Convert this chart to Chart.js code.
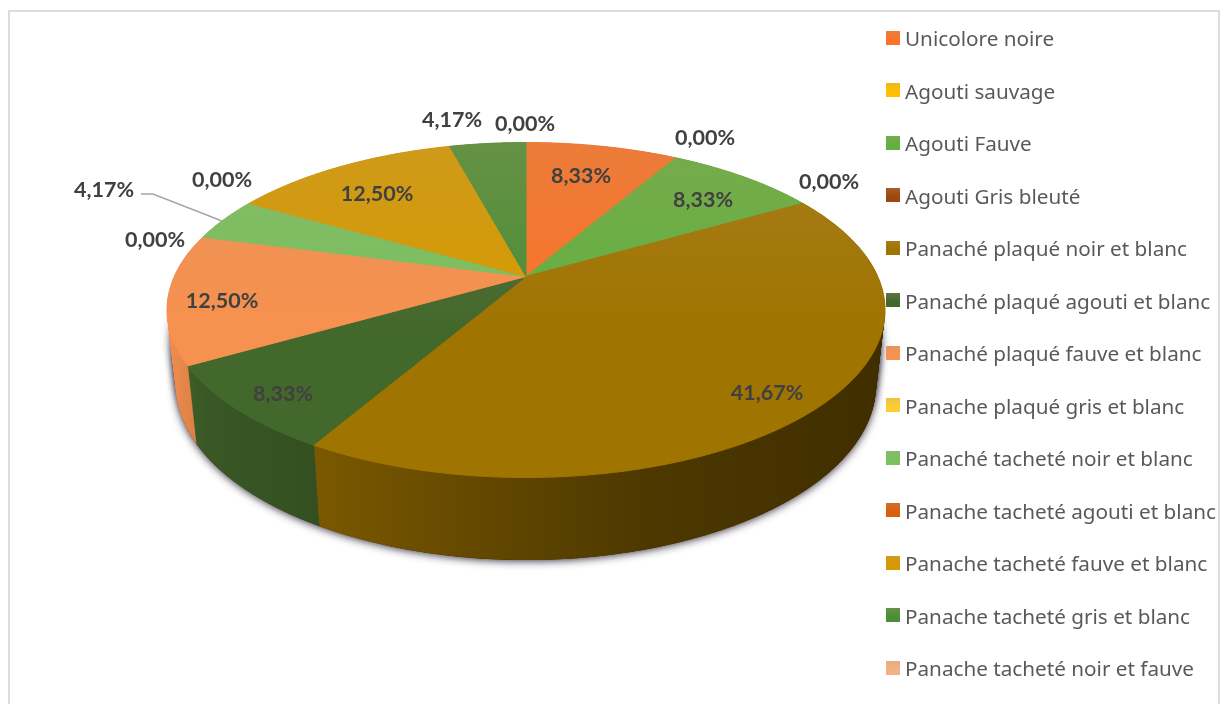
<!DOCTYPE html>
<html lang="fr">
<head>
<meta charset="utf-8">
<title>Robes</title>
<script src="https://cdn.jsdelivr.net/npm/chart.js@4"></script>
<style>
  html, body { margin: 0; padding: 0; background: #fff; overflow: hidden; }
  #frame { position: absolute; left: 8px; top: 10px; width: 1208px; height: 720px; border: 2px solid #dcdcdc; }
  canvas { position: absolute; left: 0; top: 0; }
  #legend { position: absolute; left: 886px; top: 12px; font: 20.7px "Noto Sans", sans-serif; color: #595959; white-space: nowrap; }
  #legend div { height: 52.5px; display: flex; align-items: center; }
  #legend i { display: block; width: 14px; height: 14px; margin-right: 5px; margin-top: -1px; }
</style>
</head>
<body>
<div id="frame"></div>
<canvas id="pie" width="1221" height="704"></canvas>
<div id="legend"></div>
<script>
const categories = [
  "Unicolore noire", "Agouti sauvage", "Agouti Fauve", "Agouti Gris bleuté",
  "Panaché plaqué noir et blanc", "Panaché plaqué agouti et blanc", "Panaché plaqué fauve et blanc",
  "Panache plaqué gris et blanc", "Panaché tacheté noir et blanc", "Panache tacheté agouti et blanc",
  "Panache tacheté fauve et blanc", "Panache tacheté gris et blanc", "Panache tacheté noir et fauve"
];
const percents = [8.33, 0, 8.33, 0, 41.67, 8.33, 12.5, 0, 4.17, 0, 12.5, 4.17, 0];
const sliceColors = [
  "#fb7328", "#ffc000", "#62b040", "#9e480e", "#a07400", "#43682b", "#f7914f",
  "#ffcd33", "#78c260", "#d95f0e", "#d69a00", "#4b8e36", "#f4b183"
];

// label centres, in slice order
const labelSpots = [
  [581, 176], [705, 138], [703, 200], [829, 182], [767, 393], [283, 394], [222, 301],
  [155, 240], [104, 190], [222, 180], [377, 194], [452, 120], [525, 124]
];

// the top face is an ellipse, the hub sits above its middle because of the perspective
const topFace = { x: 526, y: 310, rx: 359, ry: 167.5 };
const bottomFace = { x: 526, y: 385, rx: 350, ry: 175 };
const hubShift = -0.2;
const wallLayers = 84;

function shade(hex, f) {
  const n = parseInt(hex.slice(1), 16);
  const c = [n >> 16, (n >> 8) & 255, n & 255].map(v => Math.min(255, Math.round(v * f)));
  return `rgb(${c[0]},${c[1]},${c[2]})`;
}

function mix(hex, other, t) {
  const a = parseInt(hex.slice(1), 16), b = parseInt(other.slice(1), 16);
  const c = [16, 8, 0].map(s => Math.round(((a >> s) & 255) * (1 - t) + ((b >> s) & 255) * t));
  return `rgb(${c[0]},${c[1]},${c[2]})`;
}

// a face part way down the wall, t = 0 on top, t = 1 at the bottom
function faceAt(t) {
  return {
    x: topFace.x + (bottomFace.x - topFace.x) * t,
    y: topFace.y + (bottomFace.y - topFace.y) * t,
    rx: topFace.rx + (bottomFace.rx - topFace.rx) * t,
    ry: topFace.ry + (bottomFace.ry - topFace.ry) * t
  };
}

// angle on the round pie -> point on a tilted face
function rimPoint(face, angle) {
  const x = Math.cos(angle), y = Math.sin(angle);
  const d = 1 + hubShift * y;
  return {
    x: face.x + face.rx * x * Math.sqrt(1 - hubShift * hubShift) / d,
    y: face.y + face.ry * (y + hubShift) / d
  };
}

function traceSector(ctx, face, from, to) {
  const steps = Math.max(2, Math.ceil(Math.abs(to - from) / 0.01));
  ctx.beginPath();
  ctx.moveTo(face.x, face.y + face.ry * hubShift);
  for (let i = 0; i <= steps; i++) {
    const p = rimPoint(face, from + (to - from) * i / steps);
    ctx.lineTo(p.x, p.y);
  }
  ctx.closePath();
}

class TiltedArc extends Chart.ArcElement {
  static id = "tiltedArc";
  draw(ctx) {
    if (this.endAngle - this.startAngle < 1e-6) return;
    const color = this.options.backgroundColor;
    const grad = ctx.createLinearGradient(0, topFace.y - topFace.ry, 0, topFace.y + 20);
    grad.addColorStop(0, mix(color, "#b89a70", 0.24));
    grad.addColorStop(1, color);
    ctx.save();
    traceSector(ctx, topFace, this.startAngle, this.endAngle);
    ctx.fillStyle = grad;
    ctx.fill();
    ctx.strokeStyle = grad;
    ctx.lineWidth = 1;
    ctx.stroke();
    ctx.restore();
  }
}

class TiltedPie extends Chart.PieController {
  static id = "tiltedPie";
  static defaults = { dataElementType: "tiltedArc" };
}

Chart.register(TiltedArc, TiltedPie);

// side wall of the disc with its soft shadow, under the slices
const wallPlugin = {
  id: "wall",
  beforeDatasetsDraw(chart) {
    const ctx = chart.ctx;
    const arcs = chart.getDatasetMeta(0).data.filter(a => a.endAngle - a.startAngle > 1e-6);

    ctx.save();
    ctx.shadowColor = "rgba(20,10,30,0.85)";
    ctx.shadowBlur = 9;
    ctx.shadowOffsetY = 1;
    ctx.fillStyle = "#3f2e00";
    [0.4, 0.7, 1].forEach(t => {
      const f = faceAt(t);
      ctx.beginPath();
      ctx.ellipse(f.x, f.y, f.rx, f.ry, 0, 0, Math.PI * 2);
      ctx.fill();
    });
    ctx.restore();

    const fills = arcs.map(arc => {
      const grad = ctx.createLinearGradient(170, 0, 885, 0);
      [[0, 0.97], [0.05, 0.85], [0.21, 0.76], [0.46, 0.6], [0.67, 0.48], [1, 0.4]].forEach(s => {
        grad.addColorStop(s[0], shade(arc.options.backgroundColor, s[1]));
      });
      return grad;
    });

    // stack the slices from the bottom face up to the top face
    for (let k = wallLayers; k >= 0; k--) {
      const face = faceAt(k / wallLayers);
      arcs.forEach((arc, i) => {
        traceSector(ctx, face, arc.startAngle, arc.endAngle);
        ctx.fillStyle = fills[i];
        ctx.fill();
      });
    }
  }
};

// percentage labels and the one leader line
const labelPlugin = {
  id: "sliceLabels",
  afterDatasetsDraw(chart) {
    const ctx = chart.ctx;
    ctx.save();
    ctx.strokeStyle = "#a6a6a6";
    ctx.lineWidth = 1.4;
    ctx.beginPath();
    ctx.moveTo(141, 194);
    ctx.lineTo(153, 194);
    ctx.lineTo(222, 221);
    ctx.stroke();

    ctx.font = "bold 21.5px Lato, sans-serif";
    ctx.fillStyle = "#404040";
    ctx.textAlign = "center";
    ctx.textBaseline = "middle";
    percents.forEach((v, i) => {
      ctx.fillText(v.toFixed(2).replace(".", ",") + "%", labelSpots[i][0], labelSpots[i][1]);
    });
    ctx.restore();
  }
};

new Chart(document.getElementById("pie"), {
  type: "tiltedPie",
  data: {
    labels: categories,
    datasets: [{ data: percents, backgroundColor: sliceColors, borderWidth: 0 }]
  },
  options: {
    responsive: false,
    animation: false,
    plugins: { legend: { display: false }, tooltip: { enabled: false } }
  },
  plugins: [wallPlugin, labelPlugin]
});

const legendBox = document.getElementById("legend");
categories.forEach((name, i) => {
  const row = document.createElement("div");
  const swatch = document.createElement("i");
  swatch.style.background = `linear-gradient(${mix(sliceColors[i], "#b0a080", 0.25)}, ${sliceColors[i]} 60%)`;
  row.appendChild(swatch);
  row.appendChild(document.createTextNode(name));
  legendBox.appendChild(row);
});
</script>
</body>
</html>
